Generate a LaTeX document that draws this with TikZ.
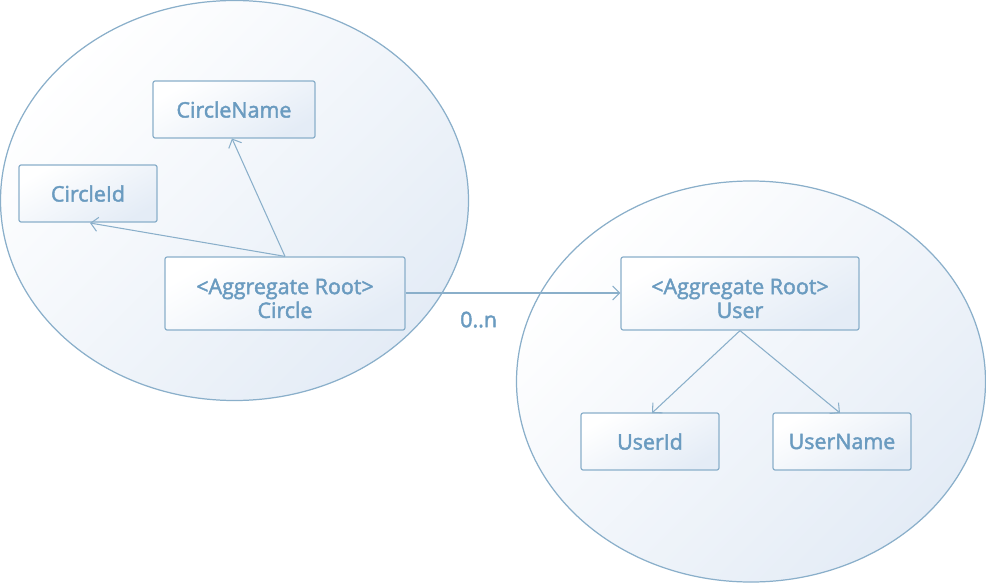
\documentclass[tikz,border=0pt]{standalone}
\usepackage{fontspec}
\setmainfont{Open Sans}
\newfontfamily\umlfont[FakeBold=2]{Open Sans}
\usetikzlibrary{arrows.meta}
\definecolor{umlline}{HTML}{8AAFCA}
\definecolor{umltext}{HTML}{6A9BC0}
\definecolor{umlfill}{HTML}{E4ECF6}
\begin{document}
\begin{tikzpicture}[x=0.02cm,y=-0.02cm,font=\umlfont\fontsize{12.2}{13.6}\selectfont,
  group/.style={draw=umlline,line width=0.7pt,top color=white,bottom color=umlfill,shading angle=45},
  part/.style={draw=umlline,line width=0.7pt,rounded corners=1.2pt,top color=white,bottom color=umlfill,shading angle=30,text=umltext,minimum width=2.76cm,minimum height=1.14cm,align=center},
  partW/.style={part,minimum width=3.24cm},
  root/.style={part,minimum width=4.8cm,minimum height=1.46cm,inner sep=1pt,text height=28pt},
  link/.style={draw=umlline,line width=0.6pt,-{Straight Barb[length=4pt,width=8pt]}},
  mult/.style={text=umltext}]
\useasboundingbox (0,0) rectangle (986,584);

% aggregate boundaries
\path[group] (234.5,200.5) ellipse [x radius=234, y radius=200];
\path[group] (751,381.5) ellipse [x radius=234.5, y radius=200.5];

% circle aggregate
\node[partW] (CN) at (234,109.5) {CircleName};
\node[part] (CI) at (88,193.5) {CircleId};
\node[root] (C) at (285,293.5) {<Aggregate Root>\\Circle};
\draw[link] (C.north) -- (232,138.5);
\draw[link] (C.north) -- (90,223);

% user aggregate
\node[root,minimum width=4.76cm] (U) at (740,293.5) {<Aggregate Root>\\User};
\node[part] (UI) at (650,441.5) {UserId};
\node[part] (UN) at (842,441.5) {UserName};
\draw[link] (U.south) -- (652,413);
\draw[link] (U.south) -- (840,413);

\draw[link] (C.east |- 0,293) -- (U.west |- 0,293) node[mult,pos=0.34,below=7pt] {0..n};
\end{tikzpicture}
\end{document}
